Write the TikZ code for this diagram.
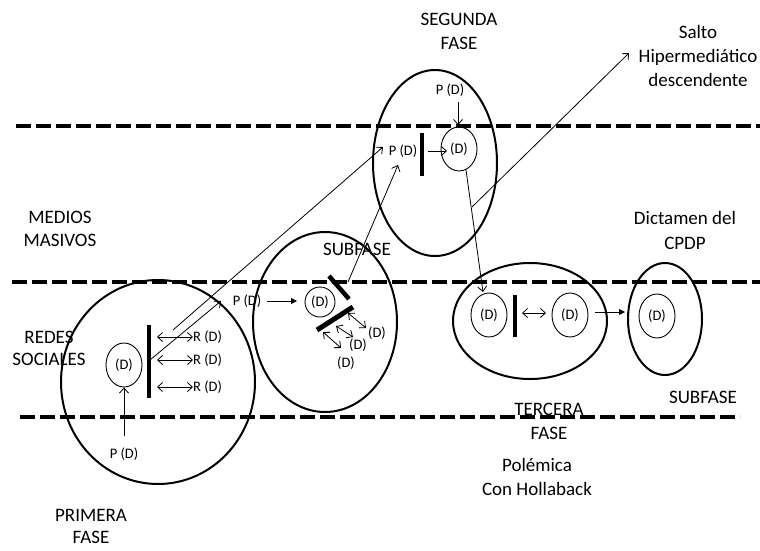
\documentclass[tikz,border=0pt]{standalone}
\usepackage{fontspec}
\setmainfont{Carlito}
\usetikzlibrary{arrows.meta,shapes.geometric}
\tikzset{
  lvl/.style={line width=4.5pt, dash pattern=on 15pt off 5pt},
  phase/.style={draw, ellipse, line width=2pt, inner sep=0pt},
  dcirc/.style={draw, ellipse, line width=0.9pt, inner sep=0pt, minimum width=36pt, minimum height=44pt, font=\fontsize{14.5}{17}\selectfont},
  bar/.style={line width=4pt},
  arr/.style={-{Straight Barb[length=5pt,width=9pt]}, line width=0.8pt},
  farr/.style={-{Triangle[length=6pt,width=6pt]}, line width=0.8pt},
  darr/.style={{Straight Barb[length=5pt,width=9pt]}-{Straight Barb[length=5pt,width=9pt]}, line width=0.8pt},
  sm/.style={font=\fontsize{14.5}{17}\selectfont, inner sep=0pt},
  lab/.style={font=\fontsize{19}{23.5}\selectfont, align=center, inner sep=0pt},
}
\begin{document}
\begin{tikzpicture}[x=1pt,y=-1pt]
\useasboundingbox (0,0) rectangle (760,550);
% level lines
\coordinate (l1a) at (16,126); \coordinate (l1b) at (762,126);
\coordinate (l2a) at (12,282); \coordinate (l2b) at (762,282);
\coordinate (l3a) at (20,417); \coordinate (l3b) at (740,417);
\draw[lvl] (l1a) -- (l1b);
\draw[lvl] (l2a) -- (l2b);
\draw[lvl] (l3a) -- (l3b);

% phase ellipses
\node[phase, minimum width=194pt, minimum height=204pt] (pf) at (158,382) {};
\node[phase, minimum width=144pt, minimum height=180pt] (sf) at (325,322) {};
\node[phase, minimum width=124pt, minimum height=186pt] (sg) at (435,163) {};
\node[phase, minimum width=154pt, minimum height=116pt] (tf) at (530,321) {};
\node[phase, minimum width=74pt, minimum height=112pt] (dc) at (665,319) {};

% labels
\node[lab] (tseg) at (459,31.5) {SEGUNDA\\FASE};
\node[lab, font=\fontsize{19}{24}\selectfont] (tsalto) at (698,56) {Salto\\Hipermediático\\descendente};
\node[lab] (tmed) at (60,229) {MEDIOS\\MASIVOS};
\node[lab, font=\fontsize{19}{22}\selectfont] (tred) at (49,348) {REDES\\SOCIALES};
\node[lab] (tsub1) at (357,249) {SUBFASE};
\node[lab, font=\fontsize{19}{25}\selectfont] (tdic) at (685,230) {Dictamen del\\CPDP};
\node[lab] (tsub2) at (703,397) {SUBFASE};
\node[lab] (tter) at (549,421.5) {TERCERA\\FASE};
\node[lab, font=\fontsize{19}{24}\selectfont] (tpol) at (537,477) {Polémica\\Con Hollaback};
\node[lab, font=\fontsize{19}{22}\selectfont] (tpri) at (91,526) {PRIMERA\\FASE};

% ---- primera fase
\node[dcirc] (d1) at (124,365) {(D)};
\coordinate (b1t) at (149,325); \coordinate (b1b) at (149,398);
\draw[bar] (b1t) -- (b1b);
\node[sm, anchor=west] (r1) at (193,337) {R (D)};
\node[sm, anchor=west] (r2) at (193,360) {R (D)};
\node[sm, anchor=west] (r3) at (193,387) {R (D)};
\coordinate (e1) at (157,337); \coordinate (e2) at (157,360); \coordinate (e3) at (157,387);
\draw[darr] (e1) -- (r1.west);
\draw[darr] (e2) -- (r2.west);
\draw[darr] (e3) -- (r3.west);
\node[sm] (p1) at (124,454) {P (D)};
\coordinate (p1t) at (124,436);
\draw[arr] (p1t) -- (d1.south);

% ---- subfase
\node[sm] (p2) at (247,301) {P (D)};
\node[draw, circle, line width=0.9pt, inner sep=0pt, minimum size=30pt, font=\fontsize{14.5}{17}\selectfont] (d2) at (320,302) {(D)};
\coordinate (p2e) at (267,301); \coordinate (d2w) at (297,301);
\draw[farr] (p2e) -- (d2w);
\coordinate (sb1a) at (329,276); \coordinate (sb1b) at (349,299);
\coordinate (sb2a) at (317,330); \coordinate (sb2b) at (353,307);
\draw[bar, line width=4.5pt] (sb1a) -- (sb1b);
\draw[bar, line width=5pt] (sb2a) -- (sb2b);
\node[sm] (s1) at (377,333) {(D)};
\node[sm] (s2) at (358,345) {(D)};
\node[sm] (s3) at (346,363) {(D)};
\coordinate (sa1) at (348,313); \coordinate (sa1e) at (366,328);
\coordinate (sa2) at (336,326); \coordinate (sa2e) at (353,337);
\coordinate (sa3) at (323,332); \coordinate (sa3e) at (341,348);
\draw[darr] (sa1) -- (sa1e);
\draw[darr] (sa2) -- (sa2e);
\draw[darr] (sa3) -- (sa3e);

% ---- segunda fase
\node[sm] (p3) at (450,90) {P (D)};
\node[dcirc] (d3) at (459,149) {(D)};
\coordinate (p3s) at (458,102); \coordinate (d3n) at (458,125);
\draw[arr] (p3s) -- (d3n);
\node[sm] (p4) at (403,151) {P (D)};
\coordinate (b3t) at (422,133); \coordinate (b3b) at (422,176);
\draw[bar] (b3t) -- (b3b);
\coordinate (p4e) at (428,151); \coordinate (d3w) at (447,151);
\draw[arr] (p4e) -- (d3w);

% ---- tercera fase
\node[dcirc] (d4) at (489,315) {(D)};
\node[dcirc] (d5) at (570,315) {(D)};
\coordinate (b4t) at (515,295); \coordinate (b4b) at (515,337);
\draw[bar] (b4t) -- (b4b);
\coordinate (t1) at (522,313); \coordinate (t1e) at (546,313);
\draw[darr] (t1) -- (t1e);
% dictamen
\node[dcirc] (d6) at (657,316) {(D)};
\coordinate (t2) at (595,312); \coordinate (t2e) at (625,312);
\draw[farr] (t2) -- (t2e);

% ---- long connectors
\coordinate (ca) at (150,360); \coordinate (cat) at (221,301);
\draw[arr] (ca) -- (cat);
\coordinate (cb) at (173,330); \coordinate (cbt) at (383,147);
\draw[arr] (cb) -- (cbt);
\coordinate (cc) at (348,282); \coordinate (cct) at (398,165);
\draw[arr] (cc) -- (cct);
\coordinate (cd) at (466,170); \coordinate (cdt) at (483,292);
\draw[arr] (cd) -- (cdt);
\coordinate (ce) at (472,207); \coordinate (cet) at (629,53);
\draw[arr] (ce) -- (cet);
\end{tikzpicture}
\end{document}
